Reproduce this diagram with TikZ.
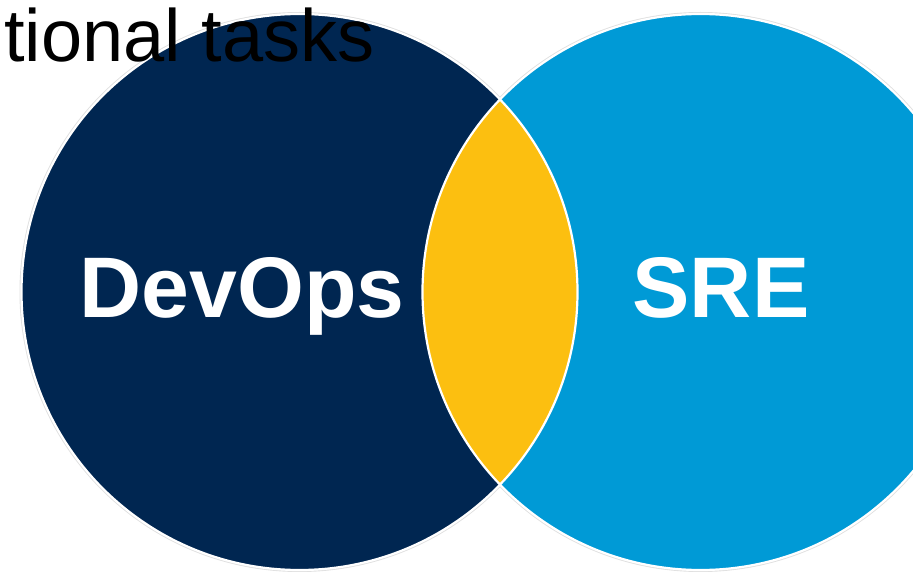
\documentclass[tikz,border=0pt]{standalone}
\usepackage{fontspec}
\setmainfont{Liberation Sans}
\definecolor{devnavy}{HTML}{002651}
\definecolor{sreblue}{HTML}{009AD6}
\definecolor{overlapgold}{HTML}{FCBF10}
\tikzset{
  setlabel/.style={text=white, font=\fontsize{86}{90}\selectfont\bfseries, inner sep=0pt, anchor=base},
  ringedge/.style={draw=white, line width=2.2pt},
  ringshadow/.style={draw=black!12, line width=4pt}
}
\begin{document}
\begin{tikzpicture}[x=1pt, y=1pt]
  \useasboundingbox (0,0) rectangle (913,571);
  \clip (0,0) rectangle (913,571);
  % centres and radius of the two sets
  \coordinate (cl) at (299.5,279);
  \coordinate (cr) at (700.5,279);
  \def\rr{278}
  % soft halo under the rims
  \draw[ringshadow] (cl) circle[radius=\rr];
  \draw[ringshadow] (cr) circle[radius=\rr];
  % the two sets
  \fill[devnavy] (cl) circle[radius=\rr];
  \fill[sreblue] (cr) circle[radius=\rr];
  % their intersection
  \begin{scope}
    \clip (cl) circle[radius=\rr];
    \fill[overlapgold] (cr) circle[radius=\rr];
  \end{scope}
  % white rims
  \draw[ringedge] (cl) circle[radius=\rr];
  \draw[ringedge] (cr) circle[radius=\rr];
  % labels
  \node[setlabel] (devops) at (242,253) {DevOps};
  \node[setlabel] (sre) at (721,253) {SRE};
  \node[anchor=base west, inner sep=0pt, font=\fontsize{74}{80}\selectfont, text=black] (caption) at (4,509) {tional tasks};
\end{tikzpicture}
\end{document}
